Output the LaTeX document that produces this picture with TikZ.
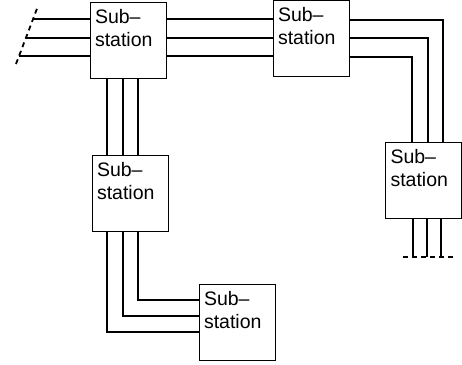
\documentclass[tikz,border=0pt]{standalone}
\usepackage{fontspec}
\setmainfont{Liberation Sans}
\usepackage{tikz}
\tikzstyle{subst}=[rectangle,draw=black,line width=0.9pt,minimum width=76pt,minimum height=76pt,inner sep=0pt,font=\fontsize{19.5}{23}\selectfont]
\tikzstyle{wire}=[line width=1.8pt]
\tikzstyle{cut}=[line width=1.8pt,dash pattern=on 5pt off 4pt]
\newcommand{\substext}{\parbox[c][76pt][t]{66pt}{\rule{0pt}{21pt}Sub–\\station}}

\begin{document}
\begin{tikzpicture}[x=1pt,y=-1pt,wire]
\useasboundingbox (0,0) rectangle (462,364);
\node[subst] (A) at (128,40) {\substext};
\node[subst] (B) at (311,38.5) {\substext};
\node[subst] (C) at (423.5,180) {\substext};
\node[subst] (D) at (130,193.5) {\substext};
\node[subst] (E) at (237,322) {\substext};
% cut ends
\coordinate (cl1) at (16,64);\coordinate (cl2) at (38,6);
\coordinate (w1) at (33,19);\coordinate (w2) at (26,38);\coordinate (w3) at (19,56);
\coordinate (cb1) at (403,257);\coordinate (cb2) at (455,257);
\draw[cut](cl1)--(cl2);
\draw[cut](cb1)--(cb2);
\draw(w1)--(A.west |- w1);\draw(w2)--(A.west |- w2);\draw(w3)--(A.west |- w3);
\draw(A.east |- 0,19)--(B.west |- 0,19);
\draw(A.east |- 0,38)--(B.west |- 0,38);
\draw(A.east |- 0,56)--(B.west |- 0,56);
\draw(B.east |- 0,20)-|(443,0 |- C.north);
\draw(B.east |- 0,38)-|(428,0 |- C.north);
\draw(B.east |- 0,57)-|(412,0 |- C.north);
\draw(413,0 |- C.south)--(413,0 |- cb1);
\draw(427,0 |- C.south)--(427,0 |- cb1);
\draw(441,0 |- C.south)--(441,0 |- cb1);
\draw(107,0 |- A.south)--(107,0 |- D.north);
\draw(123,0 |- A.south)--(123,0 |- D.north);
\draw(138,0 |- A.south)--(138,0 |- D.north);
\draw(138,0 |- D.south)|-(E.west |- 0,300);
\draw(123,0 |- D.south)|-(E.west |- 0,316);
\draw(107,0 |- D.south)|-(E.west |- 0,332);
\end{tikzpicture}
\end{document}
